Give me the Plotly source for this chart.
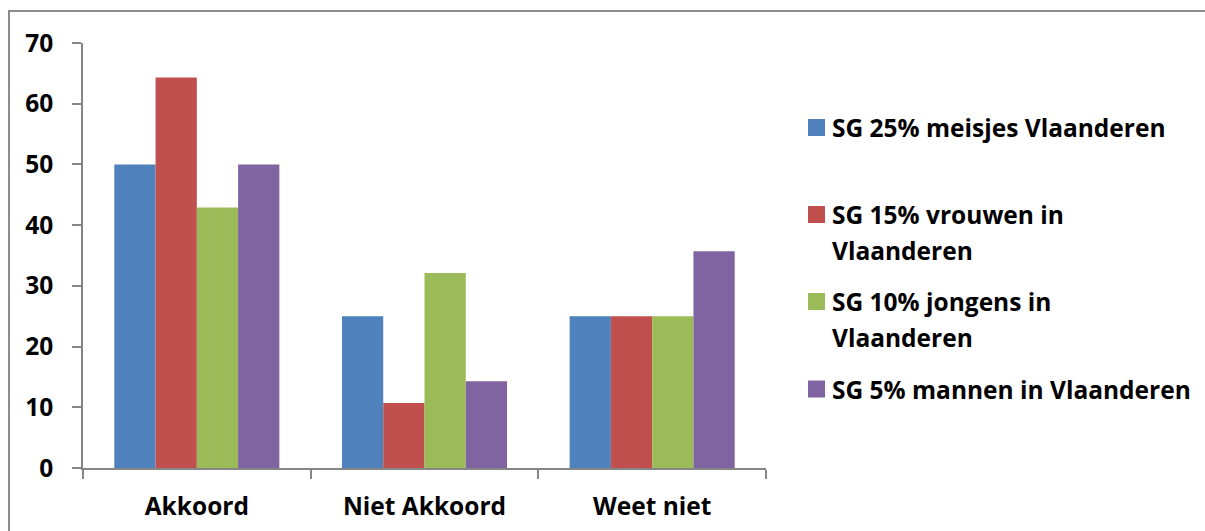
import plotly.graph_objects as go

categories = ["Akkoord", "Niet Akkoord", "Weet niet"]
series_names = [
    "SG 25% meisjes Vlaanderen",
    "SG 15% vrouwen in<br>Vlaanderen",
    "SG 10% jongens in<br>Vlaanderen",
    "SG 5% mannen in Vlaanderen",
]
meisjes = [50.0, 25.0, 25.0]
vrouwen = [64.3, 10.7, 25.0]
jongens = [42.9, 32.1, 25.0]
mannen = [50.0, 14.3, 35.7]
colors = ["#4F81BD", "#C0504D", "#9BBB59", "#8064A2"]

W, H = 1205, 531
L, R, T, B = 83, 766, 43, 468  # plot area in pixels

FONT = "Open Sans"
FSIZE = 24.5
AXIS_COLOR = "#868686"

fig = go.Figure()
for name, vals, col in zip(series_names, [meisjes, vrouwen, jongens, mannen], colors):
    fig.add_trace(go.Bar(x=categories, y=vals, name=name.replace("<br>", " "),
                         marker=dict(color=col, line=dict(width=0)),
                         showlegend=False))


def px_x(px):
    return (px - L) / (R - L)


def px_y(py):
    return (B - py) / (B - T)


shapes = []
annotations = []

# outer chart border
shapes.append(dict(type="rect", xref="paper", yref="paper",
                   x0=px_x(9), x1=px_x(W + 20), y0=px_y(11), y1=px_y(H + 20),
                   line=dict(color="#8c8c8c", width=2), fillcolor="rgba(0,0,0,0)",
                   layer="below"))

# legend: swatch + text lines, first line centres per entry
first_line_y = [127.5, 214.5, 301.5, 389]
line_step = 36
for name, col, cy in zip(series_names, colors, first_line_y):
    shapes.append(dict(type="rect", xref="paper", yref="paper",
                       x0=px_x(808), x1=px_x(825), y0=px_y(cy - 8.5), y1=px_y(cy + 8.5),
                       line=dict(width=0), fillcolor=col))
    for i, line in enumerate(name.split("<br>")):
        annotations.append(dict(xref="paper", yref="paper",
                                x=px_x(830), y=px_y(cy + i * line_step),
                                xanchor="left", yanchor="middle", showarrow=False,
                                text=f"<b>{line}</b>",
                                font=dict(family=FONT, size=FSIZE, color="#000000")))

fig.update_layout(
    width=W, height=H,
    margin=dict(l=L, r=W - R, t=T, b=H - B, autoexpand=False),
    paper_bgcolor="white", plot_bgcolor="white",
    barmode="group", bargap=0.275, bargroupgap=0,
    font=dict(family=FONT, size=FSIZE, color="#000000"),
    shapes=shapes, annotations=annotations,
    xaxis=dict(
        automargin=False,
        showline=True, linecolor=AXIS_COLOR, linewidth=1.5,
        ticks="outside", ticklen=9, tickcolor=AXIS_COLOR, tickwidth=1.5,
        tickson="boundaries", showgrid=False, zeroline=False,
        tickfont=dict(family=FONT, size=FSIZE, color="#000000", weight="bold"),
        ticklabelstandoff=16,
    ),
    yaxis=dict(
        automargin=False,
        range=[0, 70], dtick=10, tick0=0,
        showline=True, linecolor=AXIS_COLOR, linewidth=1.5,
        ticks="outside", ticklen=9, tickcolor=AXIS_COLOR, tickwidth=1.5,
        showgrid=False, zeroline=False,
        tickfont=dict(family=FONT, size=FSIZE, color="#000000", weight="bold"),
        ticklabelstandoff=14,
    ),
)

fig.write_html("out.html")
